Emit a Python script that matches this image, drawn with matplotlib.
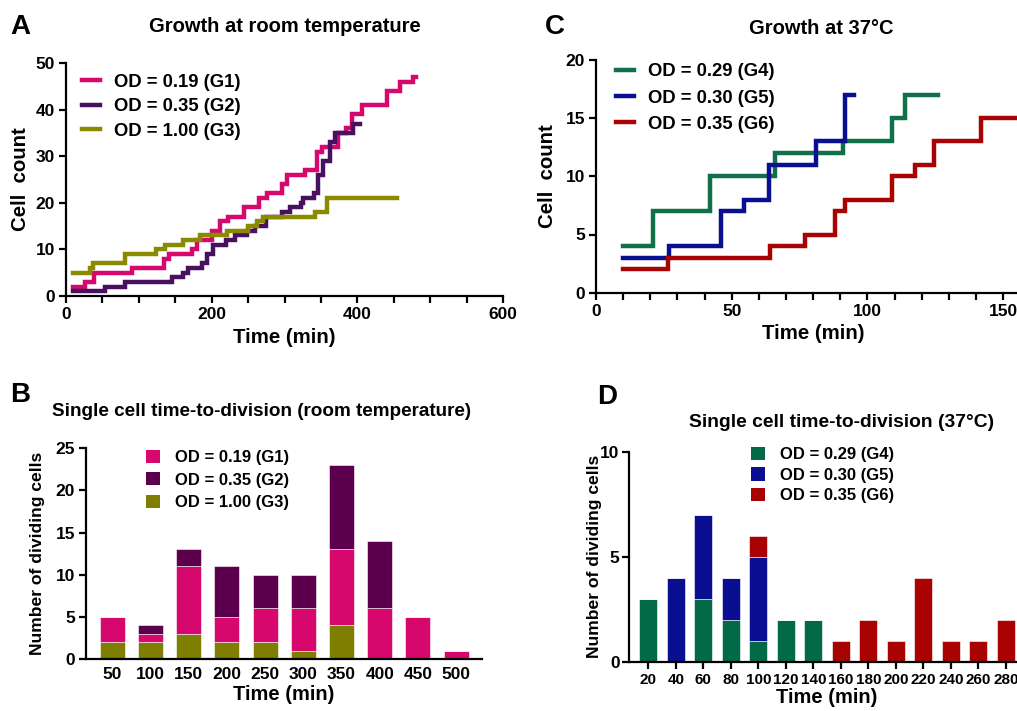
import matplotlib
matplotlib.use("Agg")
import matplotlib.pyplot as plt
from matplotlib.ticker import MultipleLocator
from matplotlib.patches import Patch
from matplotlib.lines import Line2D

plt.rcParams['font.family'] = ['Liberation Sans', 'DejaVu Sans']
plt.rcParams['font.weight'] = 'bold'
plt.rcParams['axes.labelweight'] = 'bold'

# ---------------- data ----------------
# Panel A: growth at room temperature (step curves)
g1_t = [10, 26, 38, 91, 134, 141, 173, 180, 200, 212, 222, 244, 265, 276, 296, 304, 328, 344, 351, 374, 385, 392, 406, 441, 458, 476, 480]
g1_n = [2, 3, 5, 6, 8, 9, 10, 12, 14, 16, 17, 19, 21, 22, 24, 26, 27, 31, 32, 35, 36, 39, 41, 44, 46, 47, 47]
g2_t = [10, 54, 81, 145, 161, 168, 187, 194, 202, 220, 232, 248, 259, 275, 296, 308, 322, 326, 340, 346, 353, 362, 369, 394, 404]
g2_n = [1, 2, 3, 4, 5, 6, 7, 9, 11, 12, 13, 14, 15, 17, 18, 19, 20, 21, 22, 26, 29, 33, 35, 37, 37]
g3_t = [10, 33, 37, 81, 124, 136, 161, 184, 221, 250, 262, 270, 342, 358, 454]
g3_n = [5, 6, 7, 9, 10, 11, 12, 13, 14, 15, 16, 17, 18, 21, 21]

# Panel C: growth at 37 C
g4_t = [10, 21, 42, 66, 91, 109, 114, 126]
g4_n = [4, 7, 10, 12, 13, 15, 17, 17]
g5_t = [10, 27, 46, 54.5, 63.6, 81, 91.6, 95]
g5_n = [3, 4, 7, 8, 11, 13, 17, 17]
g6_t = [10, 26.5, 64, 77, 88, 91.6, 109, 117.6, 124.6, 141.8, 160]
g6_n = [2, 3, 4, 5, 7, 8, 10, 11, 13, 15, 15]

# Panel B: time-to-division, room temperature
b_cats = ['50', '100', '150', '200', '250', '300', '350', '400', '450', '500']
b_g1 = [3, 1, 8, 3, 4, 5, 9, 6, 5, 1]
b_g2 = [0, 1, 2, 6, 4, 4, 10, 8, 0, 0]
b_g3 = [2, 2, 3, 2, 2, 1, 4, 0, 0, 0]

# Panel D: time-to-division, 37 C
d_cats = ['20', '40', '60', '80', '100', '120', '140', '160', '180', '200', '220', '240', '260', '280']
d_g4 = [3, 0, 3, 2, 1, 2, 2, 0, 0, 0, 0, 0, 0, 0]
d_g5 = [0, 4, 4, 2, 4, 0, 0, 0, 0, 0, 0, 0, 0, 0]
d_g6 = [0, 0, 0, 0, 1, 0, 0, 1, 2, 1, 4, 1, 1, 2]

labels_rt = ['OD = 0.19 (G1)', 'OD = 0.35 (G2)', 'OD = 1.00 (G3)']
labels_37 = ['OD = 0.29 (G4)', 'OD = 0.30 (G5)', 'OD = 0.35 (G6)']

# ---------------- colours ----------------
c_g1 = '#D6086E'
c_g2_line = '#4A1060'
c_g2_bar = '#5C004E'
c_g3_line = '#8A8A00'
c_g3_bar = '#7E7E00'
c_g4_line = '#0F7049'
c_g4_bar = '#036A48'
c_g5 = '#0A0F92'
c_g6 = '#A80202'

W, H = 1017, 711
fig = plt.figure(figsize=(W / 100, H / 100), dpi=100)

def ax_px(x0, y0, x1, y1):
    return fig.add_axes([x0 / W, 1 - y0 / H, (x1 - x0) / W, (y0 - y1) / H])

TICK_FS = 12.5

def style(ax, fs=TICK_FS):
    for s in ['top', 'right']:
        ax.spines[s].set_visible(False)
    for s in ['left', 'bottom']:
        ax.spines[s].set_linewidth(1.6)
    ax.tick_params(which='both', direction='out', width=1.6, length=5, labelsize=fs, pad=3)
    for lab in ax.get_xticklabels() + ax.get_yticklabels():
        lab.set_fontweight('bold')

LW = 3.2

# ---------------- Panel A ----------------
axA = ax_px(66, 296, 503, 63)
axA.step(g1_t, g1_n, where='post', color=c_g1, lw=LW, solid_joinstyle='miter')
axA.step(g2_t, g2_n, where='post', color=c_g2_line, lw=LW, solid_joinstyle='miter')
axA.step(g3_t, g3_n, where='post', color=c_g3_line, lw=LW, solid_joinstyle='miter')
axA.set_xlim(0, 600)
axA.set_ylim(0, 50)
axA.xaxis.set_major_locator(MultipleLocator(200))
axA.xaxis.set_minor_locator(MultipleLocator(50))
axA.yaxis.set_major_locator(MultipleLocator(10))
style(axA)
axA.set_xlabel('Time (min)', fontsize=14.7, fontweight='bold', labelpad=4)
axA.set_ylabel('Cell  count', fontsize=14.7, fontweight='bold', labelpad=4)
fig.text(285 / W, 1 - 27 / H, 'Growth at room temperature', fontsize=14.5, fontweight='bold',
         ha='center', va='center')
hA = [Line2D([0], [0], color=c, lw=LW) for c in [c_g1, c_g2_line, c_g3_line]]
axA.legend(hA, labels_rt, loc='upper left', bbox_to_anchor=(0.02, 0.985), frameon=False,
           prop={'weight': 'bold', 'size': 13.3}, handlelength=0.95, handletextpad=0.75,
           labelspacing=0.4, borderaxespad=0)

# ---------------- Panel C ----------------
axC = ax_px(596, 292.7, 596 + 160 * 2.714, 59.9)
axC.step(g4_t, g4_n, where='post', color=c_g4_line, lw=LW, solid_joinstyle='miter')
axC.step(g5_t, g5_n, where='post', color=c_g5, lw=LW, solid_joinstyle='miter')
axC.step(g6_t, g6_n, where='post', color=c_g6, lw=LW, solid_joinstyle='miter')
axC.set_xlim(0, 160)
axC.set_ylim(0, 20)
axC.set_xticks([0, 50, 100, 150])
axC.xaxis.set_minor_locator(MultipleLocator(10))
axC.yaxis.set_major_locator(MultipleLocator(5))
style(axC)
axC.set_xlabel('Time (min)', fontsize=14.7, fontweight='bold', labelpad=4)
axC.set_ylabel('Cell  count', fontsize=14.7, fontweight='bold', labelpad=6)
fig.text(821 / W, 1 - 28 / H, 'Growth at 37°C', fontsize=14.5, fontweight='bold', ha='center', va='center')
hC = [Line2D([0], [0], color=c, lw=LW) for c in [c_g4_line, c_g5, c_g6]]
axC.legend(hC, labels_37, loc='upper left', bbox_to_anchor=(0.03, 1.017), frameon=False,
           prop={'weight': 'bold', 'size': 13.3}, handlelength=0.95, handletextpad=0.75,
           labelspacing=0.5, borderaxespad=0)

# ---------------- Panel B ----------------
axB = ax_px(86, 659, 481.7, 448.3)
xb = list(range(len(b_cats)))
bw = 0.655
bot2 = [a + b for a, b in zip(b_g3, b_g1)]
axB.bar(xb, b_g3, width=bw, color=c_g3_bar, edgecolor='white', linewidth=0.4)
axB.bar(xb, b_g1, width=bw, bottom=b_g3, color=c_g1, edgecolor='white', linewidth=0.4)
axB.bar(xb, b_g2, width=bw, bottom=bot2, color=c_g2_bar, edgecolor='white', linewidth=0.4)
axB.set_xlim(-0.69, 9.67)
axB.set_ylim(0, 25)
axB.set_xticks(xb)
axB.set_xticklabels(b_cats)
axB.yaxis.set_major_locator(MultipleLocator(5))
style(axB)
axB.tick_params(axis='x', length=0, pad=6)
axB.set_xlabel('Time (min)', fontsize=14.5, fontweight='bold', labelpad=2)
axB.set_ylabel('Number of dividing cells', fontsize=12.6, fontweight='bold')
axB.yaxis.set_label_coords(-0.104, 0.5)
fig.text(262 / W, 1 - 411 / H, 'Single cell time-to-division (room temperature)', fontsize=13.6,
         fontweight='bold', ha='center', va='center')
hB = [Patch(facecolor=c) for c in [c_g1, c_g2_bar, c_g3_bar]]
axB.legend(hB, labels_rt, loc='upper left', bbox_to_anchor=(0.135, 1.025), frameon=False,
           prop={'weight': 'bold', 'size': 12}, handlelength=0.85, handleheight=0.85,
           handletextpad=0.9, labelspacing=0.42, borderaxespad=0)

# ---------------- Panel D ----------------
axD = ax_px(629.3, 661.7, 629.3 + 14.38 * 27.5, 451.7)
xd = list(range(len(d_cats)))
dw = 0.667
bot6 = [a + b for a, b in zip(d_g4, d_g5)]
axD.bar(xd, d_g4, width=dw, color=c_g4_bar, edgecolor='white', linewidth=0.4)
axD.bar(xd, d_g5, width=dw, bottom=d_g4, color=c_g5, edgecolor='white', linewidth=0.4)
axD.bar(xd, d_g6, width=dw, bottom=bot6, color=c_g6, edgecolor='white', linewidth=0.4)
axD.set_xlim(-0.69, 13.69)
axD.set_ylim(0, 10)
axD.set_xticks(xd)
axD.set_xticklabels(d_cats)
axD.yaxis.set_major_locator(MultipleLocator(5))
style(axD, fs=11)
axD.tick_params(axis='y', labelsize=12.5, pad=2)
axD.tick_params(axis='x', length=5, pad=3)
axD.set_xlabel('Time (min)', fontsize=14.5, fontweight='bold', labelpad=1)
axD.set_ylabel('Number of dividing cells', fontsize=12.6, fontweight='bold')
axD.yaxis.set_label_coords(-0.07, 0.5)
fig.text(842 / W, 1 - 423 / H, 'Single cell time-to-division (37°C)', fontsize=13.9,
         fontweight='bold', ha='center', va='center')
hD = [Patch(facecolor=c) for c in [c_g4_bar, c_g5, c_g6]]
axD.legend(hD, labels_37, loc='upper left', bbox_to_anchor=(0.29, 1.055), frameon=False,
           prop={'weight': 'bold', 'size': 12}, handlelength=0.85, handleheight=0.85,
           handletextpad=0.9, labelspacing=0.3, borderaxespad=0)

# panel letters
for x, y, s in [(20, 27, 'A'), (20, 395, 'B'), (555, 27, 'C'), (607, 397, 'D')]:
    fig.text(x / W, 1 - y / H, s, fontsize=20, fontweight='bold', ha='center', va='center')

fig.savefig('out.png', dpi=100)
